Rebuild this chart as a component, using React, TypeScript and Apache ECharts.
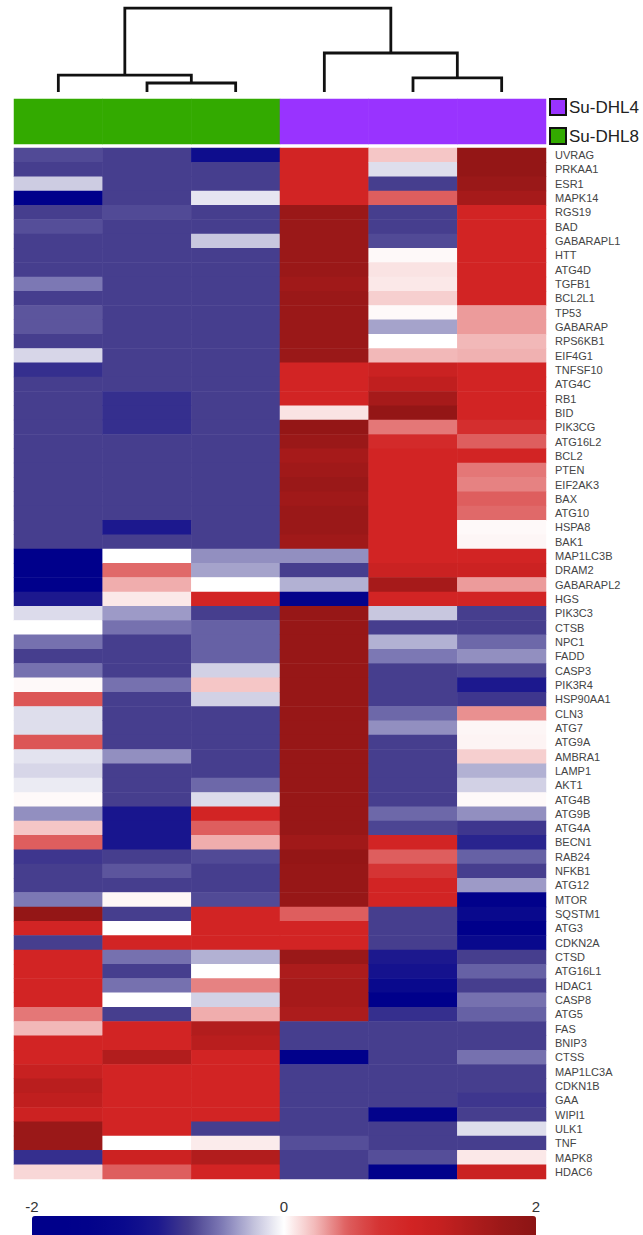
import React, { useEffect, useRef } from "react";
import * as echarts from "echarts";

const genes = [
  "UVRAG","PRKAA1","ESR1","MAPK14","RGS19","BAD","GABARAPL1","HTT","ATG4D","TGFB1",
  "BCL2L1","TP53","GABARAP","RPS6KB1","EIF4G1","TNFSF10","ATG4C","RB1","BID","PIK3CG",
  "ATG16L2","BCL2","PTEN","EIF2AK3","BAX","ATG10","HSPA8","BAK1","MAP1LC3B","DRAM2",
  "GABARAPL2","HGS","PIK3C3","CTSB","NPC1","FADD","CASP3","PIK3R4","HSP90AA1","CLN3",
  "ATG7","ATG9A","AMBRA1","LAMP1","AKT1","ATG4B","ATG9B","ATG4A","BECN1","RAB24",
  "NFKB1","ATG12","MTOR","SQSTM1","ATG3","CDKN2A","CTSD","ATG16L1","HDAC1","CASP8",
  "ATG5","FAS","BNIP3","CTSS","MAP1LC3A","CDKN1B","GAA","WIPI1","ULK1","TNF",
  "MAPK8","HDAC6"
];

const samples = ["DHL8_1", "DHL8_2", "DHL8_3", "DHL4_1", "DHL4_2", "DHL4_3"];
const groupNames = ["Su-DHL4", "Su-DHL8"];
const groupColors = ["#9933FF", "#33AA00"];
const sampleGroup = [1, 1, 1, 0, 0, 0];

// z-scores per sample (column), rows in gene order
const s1 = [
  -0.7,-0.75,-0.2,-2,-0.75,-0.68,-0.75,-0.75,-0.75,-0.5,
  -0.75,-0.65,-0.65,-0.75,-0.16,-0.85,-0.75,-0.75,-0.75,-0.75,
  -0.75,-0.75,-0.75,-0.75,-0.75,-0.75,-0.75,-0.75,-2,-2,
  -2,-1.0,-0.14,0,-0.53,-0.75,-0.53,0.02,0.55,-0.13,
  -0.13,0.55,-0.11,-0.16,-0.08,0.02,-0.42,0.2,0.5,-0.8,
  -0.75,-0.75,-0.5,1.85,1.0,-0.75,1.0,1.0,1.0,1.0,
  0.43,0.25,1.0,1.0,1.2,1.38,1.3,1.1,1.75,1.75,
  -0.85,0.14
];
const s2 = [
  -0.75,-0.75,-0.75,-0.75,-0.7,-0.75,-0.75,-0.75,-0.75,-0.75,
  -0.75,-0.75,-0.75,-0.75,-0.75,-0.75,-0.75,-0.85,-0.85,-0.85,
  -0.75,-0.75,-0.75,-0.75,-0.75,-0.75,-1.0,-0.75,0,0.47,
  0.28,0.08,-0.38,-0.53,-0.75,-0.75,-0.75,-0.53,-0.75,-0.75,
  -0.75,-0.75,-0.42,-0.75,-0.75,-0.75,-1.05,-1.05,-1.05,-0.75,
  -0.65,-0.75,0.03,-0.75,0,1.0,-0.53,-0.75,-0.53,0,
  -0.75,1.0,1.0,1.45,1.0,1.0,1.0,1.0,1.0,0,
  1.1,0.5
];
const s3 = [
  -1.2,-0.75,-0.75,-0.1,-0.75,-0.75,-0.22,-0.75,-0.75,-0.75,
  -0.75,-0.75,-0.75,-0.75,-0.75,-0.75,-0.75,-0.75,-0.75,-0.75,
  -0.75,-0.75,-0.75,-0.75,-0.75,-0.75,-0.75,-0.75,-0.42,-0.35,
  0,1.0,-0.75,-0.6,-0.6,-0.6,-0.18,0.2,-0.18,-0.75,
  -0.75,-0.75,-0.75,-0.75,-0.57,-0.14,1.0,0.5,0.28,-0.7,
  -0.75,-0.75,-0.7,1.0,1.0,1.0,-0.3,0,0.4,-0.18,
  0.28,1.45,1.38,1.0,1.0,1.0,1.0,1.0,-0.75,0.07,
  1.45,1.0
];
const s4 = [
  1.0,1.0,1.0,1.0,1.75,1.75,1.75,1.75,1.75,1.68,
  1.75,1.75,1.75,1.75,1.75,1.0,1.0,1.0,0.1,1.85,
  1.75,1.6,1.68,1.75,1.68,1.75,1.75,1.68,-0.42,-0.75,
  -0.3,-1.5,1.8,1.8,1.8,1.8,1.8,1.8,1.8,1.8,
  1.8,1.8,1.8,1.8,1.8,1.8,1.8,1.8,1.68,1.85,
  1.8,1.8,1.8,0.5,1.0,1.0,1.75,1.52,1.6,1.6,
  1.52,-0.75,-0.75,-1.7,-0.75,-0.75,-0.75,-0.75,-0.75,-0.68,
  -0.75,-0.75
];
const s5 = [
  0.2,-0.13,-0.75,0.5,-0.75,-0.75,-0.7,0.02,0.1,0.08,
  0.17,0.02,-0.35,0,0.25,1.15,1.3,1.6,1.85,0.43,
  0.9,1.0,1.0,1.0,1.0,1.0,1.0,1.0,1.0,1.15,
  1.6,1.0,-0.22,-0.75,-0.3,-0.5,-0.75,-0.75,-0.75,-0.57,
  -0.42,-0.75,-0.75,-0.75,-0.75,-0.75,-0.57,-0.72,1.0,0.5,
  0.75,1.0,1.0,-0.75,-0.75,-0.75,-1.0,-1.1,-1.3,-2,
  -0.85,-0.75,-0.75,-0.75,-0.75,-0.75,-0.75,-1.5,-0.75,-0.75,
  -0.68,-1.7
];
const s6 = [
  1.85,1.85,1.75,1.6,1.0,1.0,1.0,1.0,1.0,1.0,
  1.0,0.33,0.33,0.25,0.27,1.0,1.0,1.0,1.0,0.85,
  0.5,1.0,0.43,0.4,0.5,0.47,0.02,0.03,1.0,1.1,
  0.33,1.0,-0.75,-0.75,-0.57,-0.42,-0.72,-1.0,-0.8,0.36,
  0.03,0.04,0.17,-0.3,-0.18,0.02,-0.42,-0.8,-0.92,-0.6,
  -0.75,-0.38,-1.7,-1.3,-2,-1.3,-0.75,-0.6,-0.75,-0.53,
  -0.6,-0.75,-0.75,-0.53,-0.75,-0.75,-0.8,-0.75,-0.13,-0.75,
  0.08,1.15
];
const sampleValues = [s1, s2, s3, s4, s5, s6];

// Column dendrogram: [childA, childB, height]; leaves 0..5, merged nodes 6..
const merges: [number, number, number][] = [
  [1, 2, 0.107],
  [4, 5, 0.167],
  [0, 6, 0.2],
  [3, 7, 0.464],
  [8, 9, 1.0],
];

const colorTicks = [-2, 0, 2];
const colorStops = [
  "#00008B", "#00008B", "#03038B", "#0A0A8D", "#1C188E", "#463E8E", "#7C78B4", "#C0BFDB",
  "#FFFFFF",
  "#F2B8B8", "#DE5E5E", "#D53434", "#D22424", "#C42020", "#AE1C1C", "#9A1818", "#8B1414"
];

export default function App() {
  const ref = useRef<HTMLDivElement>(null);
  useEffect(() => {
    document.body.style.margin = "0";
    if (!ref.current) return;
    const chart = echarts.init(ref.current, undefined, { renderer: "svg" });

    const heatData: [number, number, number][] = [];
    sampleValues.forEach((col, c) => col.forEach((v, r) => heatData.push([c, r, v])));

    const groupData = sampleGroup.map((g, c) => [c, 0, g]);

    // dendrogram segments
    const nodeX: number[] = samples.map((_, i) => i + 0.5);
    const nodeH: number[] = samples.map(() => 0);
    const dendroLines: { coords: number[][] }[] = [];
    merges.forEach(([a, b, h]) => {
      dendroLines.push({
        coords: [[nodeX[a], nodeH[a]], [nodeX[a], h], [nodeX[b], h], [nodeX[b], nodeH[b]]],
      });
      nodeX.push((nodeX[a] + nodeX[b]) / 2);
      nodeH.push(h);
    });

    const font = "Liberation Sans, Arial, sans-serif";

    chart.setOption({
      animation: false,
      backgroundColor: "#ffffff",
      grid: [
        { left: 14, top: 148, width: 532, height: 1031 },
        { left: 14, top: 99, width: 532, height: 45 },
        { left: 14, top: 8, width: 532, height: 84 },
        { left: 32, top: 1216, width: 504, height: 19 },
      ],
      xAxis: [
        { gridIndex: 0, type: "category", data: samples, show: false },
        { gridIndex: 1, type: "category", data: samples, show: false },
        { gridIndex: 2, type: "value", min: 0, max: samples.length, show: false },
        {
          gridIndex: 3, type: "value", min: colorTicks[0], max: colorTicks[colorTicks.length - 1],
          interval: 2, position: "top",
          axisLine: { show: false }, axisTick: { show: false }, splitLine: { show: false },
          axisLabel: { fontSize: 15, color: "#333", fontFamily: font, margin: 2 },
        },
      ],
      yAxis: [
        {
          gridIndex: 0, type: "category", data: genes, inverse: true, position: "right",
          axisLine: { show: false }, axisTick: { show: false },
          axisLabel: { fontSize: 11, color: "#444", fontFamily: font, margin: 9, interval: 0 },
        },
        { gridIndex: 1, type: "category", data: ["group"], show: false },
        { gridIndex: 2, type: "value", min: 0, max: 1, show: false },
        { gridIndex: 3, type: "value", show: false },
      ],
      visualMap: [
        {
          type: "continuous", seriesIndex: 0, dimension: 2, min: -2, max: 2,
          orient: "horizontal", left: 32, top: 1216, itemWidth: 22, itemHeight: 504,
          padding: 0, calculable: false, hoverLink: false, text: ["", ""], showLabel: false,
          inRange: { color: colorStops },
        },
        {
          type: "piecewise", seriesIndex: 1, dimension: 2, show: false,
          pieces: groupNames.map((_, i) => ({ value: i, color: groupColors[i] })),
        },
      ],
      series: [
        {
          type: "heatmap", xAxisIndex: 0, yAxisIndex: 0, data: heatData,
          itemStyle: { borderWidth: 0 }, emphasis: { disabled: true }, silent: true,
        },
        {
          type: "heatmap", xAxisIndex: 1, yAxisIndex: 1, data: groupData,
          itemStyle: { borderWidth: 0 }, emphasis: { disabled: true }, silent: true,
        },
        {
          type: "lines", coordinateSystem: "cartesian2d", xAxisIndex: 2, yAxisIndex: 2,
          polyline: true, data: dendroLines, silent: true,
          lineStyle: { color: "#111", width: 2.8, opacity: 1 },
        },
      ],
      graphic: groupNames.map((name, i) => ({
        type: "group",
        left: 549,
        top: 98 + i * 29,
        children: [
          {
            type: "rect", shape: { x: 0, y: 0, width: 16, height: 16 },
            style: { fill: groupColors[i], stroke: "#111", lineWidth: 2 },
          },
          {
            type: "text", x: 19, y: 8,
            style: { text: name, fontSize: 17, fontFamily: font, fill: "#222", verticalAlign: "middle" },
          },
        ],
      })),
    });
    return () => chart.dispose();
  }, []);
  return <div ref={ref} style={{ width: 643, height: 1235 }} />;
}
